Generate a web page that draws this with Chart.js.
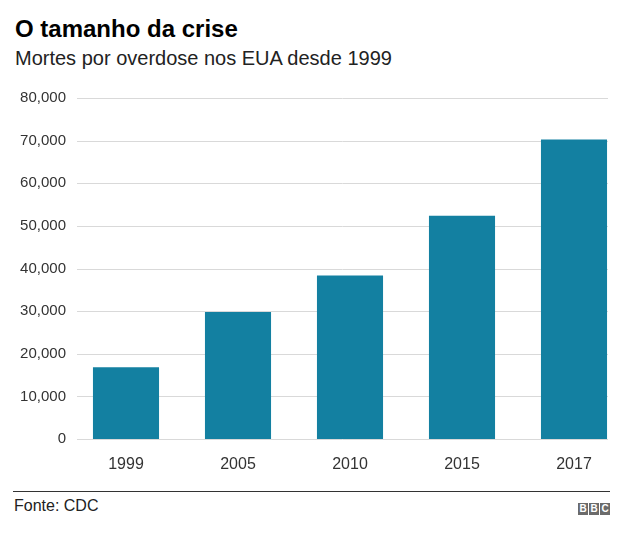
<!DOCTYPE html>
<html lang="pt">
<head>
<meta charset="UTF-8">
<title>O tamanho da crise</title>
<script src="https://cdn.jsdelivr.net/npm/chart.js@4.4.1/dist/chart.umd.min.js"></script>
<style>
    body { margin: 0; background: #fff; font-family: "Liberation Sans", Arial, sans-serif; }
    .page { position: relative; width: 640px; height: 537px; overflow: hidden; }
    h1 { position: absolute; left: 15px; top: 16px; margin: 0; font-size: 24px; line-height: 26px; font-weight: bold; color: #000; }
    .sub { position: absolute; left: 15px; top: 47px; margin: 0; font-size: 20px; line-height: 22px; color: #222; }
    .chart-box { position: absolute; left: 0; top: 85px; width: 640px; height: 400px; }
    .rule { position: absolute; left: 13px; top: 491px; width: 597px; height: 0; border-top: 1.5px solid #333; }
    .source { position: absolute; left: 14px; top: 497px; font-size: 16px; color: #222; }
    .bbc { position: absolute; left: 578px; top: 503px; display: flex; gap: 1px; }
    .bbc span { width: 10px; height: 12px; background: #6b6b6b; color: #fff; font-size: 10px; font-weight: bold; line-height: 12px; text-align: center; }
</style>
</head>
<body>
<div class="page">
    <h1>O tamanho da crise</h1>
    <p class="sub">Mortes por overdose nos EUA desde 1999</p>
    <div class="chart-box"><canvas id="deathsChart"></canvas></div>
    <div class="rule"></div>
    <div class="source">Fonte: CDC</div>
    <div class="bbc"><span>B</span><span>B</span><span>C</span></div>
</div>

<script>
    // dados
    const years = ['1999', '2005', '2010', '2015', '2017'];
    const deaths = [16849, 29813, 38329, 52404, 70237];
    const yTicks = [0, 10000, 20000, 30000, 40000, 50000, 60000, 70000, 80000];

    // linhas de grade mais curtas que a área do gráfico, como no original
    const gridLines = {
        id: 'gridLines',
        beforeDatasetsDraw(chart) {
            const { ctx, chartArea, scales } = chart;
            ctx.save();
            ctx.strokeStyle = '#d9d9d9';
            ctx.lineWidth = 1;
            yTicks.forEach(v => {
                const y = Math.round(scales.y.getPixelForValue(v)) + 0.5;
                ctx.beginPath();
                ctx.moveTo(chartArea.left + 7, y);
                ctx.lineTo(chartArea.right - 22, y);
                ctx.stroke();
            });
            ctx.restore();
        }
    };

    new Chart(document.getElementById('deathsChart'), {
        type: 'bar',
        data: {
            labels: years,
            datasets: [{
                data: deaths,
                backgroundColor: '#1380a1',
                borderWidth: 0,
                barPercentage: 0.59,
                categoryPercentage: 1
            }]
        },
        options: {
            responsive: true,
            maintainAspectRatio: false,
            animation: false,
            layout: { padding: { top: 12, right: 10, left: 0, bottom: 0 } },
            plugins: {
                legend: { display: false },
                tooltip: { enabled: false }
            },
            scales: {
                x: {
                    grid: { display: false, drawTicks: false },
                    border: { display: false },
                    ticks: {
                        color: '#333',
                        padding: 16,
                        font: { family: 'Liberation Sans', size: 16 }
                    },
                    afterFit(scale) { scale.height = 46; }
                },
                y: {
                    min: 0,
                    max: 80000,
                    grid: { display: false, drawTicks: false },
                    border: { display: false },
                    afterBuildTicks(scale) { scale.ticks = yTicks.map(v => ({ value: v })); },
                    ticks: {
                        color: '#333',
                        padding: 4,
                        font: { family: 'Liberation Sans', size: 15 },
                        callback: v => v.toLocaleString('en-US')
                    },
                    afterFit(scale) { scale.width = 70; }
                }
            }
        },
        plugins: [gridLines]
    });
</script>
</body>
</html>
